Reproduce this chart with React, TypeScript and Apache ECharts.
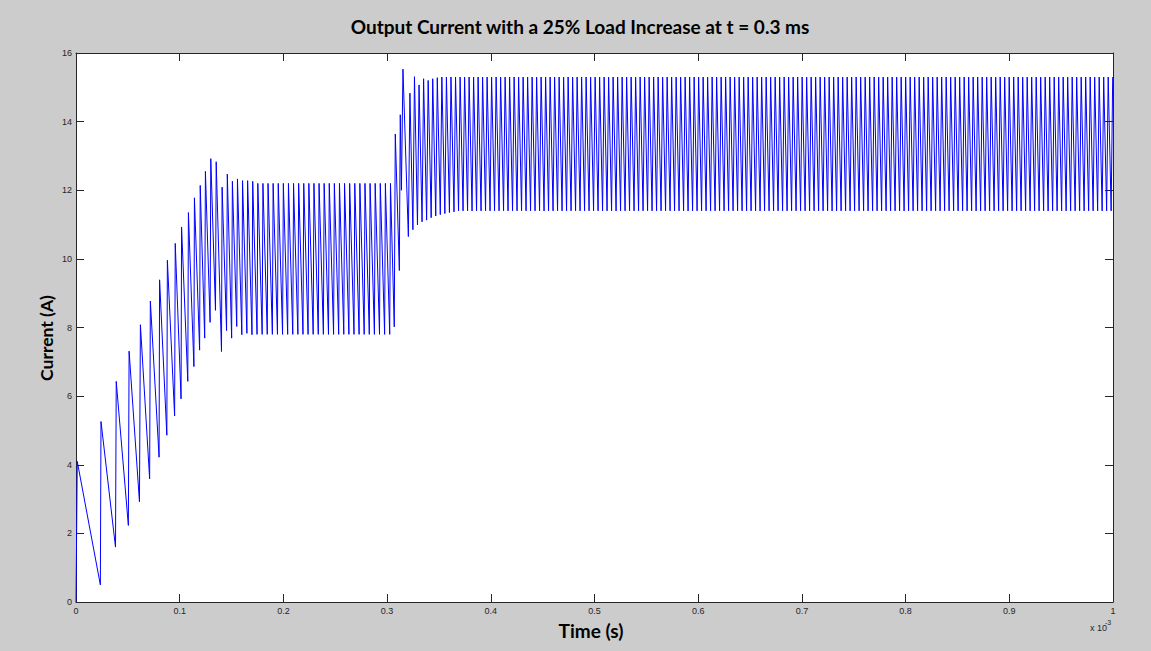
import React, { useEffect, useRef } from "react";
import * as echarts from "echarts";

// ---- Axis ticks (time in units of 1e-3 s) ----
const xTickValues = [0, 0.1, 0.2, 0.3, 0.4, 0.5, 0.6, 0.7, 0.8, 0.9, 1];
const yTickValues = [0, 2, 4, 6, 8, 10, 12, 14, 16];

// ---- Start-up transient: one trough and one peak per switching cycle ----
const startTroughT = [0, 0.0235, 0.0381, 0.0505, 0.0612, 0.071, 0.0801, 0.0876, 0.0951, 0.1013, 0.1078, 0.1137, 0.1192, 0.1241, 0.1293, 0.1345, 0.1403, 0.1452, 0.1501, 0.155, 0.1599, 0.1648, 0.1697];
const startTroughV = [0, 0.5, 1.6, 2.23, 2.92, 3.59, 4.22, 4.86, 5.42, 5.92, 6.43, 6.86, 7.34, 7.69, 8.15, 8.5, 7.3, 7.91, 7.69, 8.03, 7.79, 7.83, 7.79];
const startPeakT = [0.0012, 0.0241, 0.0388, 0.0512, 0.0621, 0.0717, 0.0806, 0.0881, 0.0957, 0.1018, 0.1084, 0.1142, 0.1198, 0.1248, 0.13, 0.1352, 0.1409, 0.1459, 0.1508, 0.1557, 0.1606, 0.1655, 0.1704];
const startPeakV = [4.1, 5.26, 6.43, 7.31, 8.08, 8.77, 9.39, 9.96, 10.45, 10.93, 11.35, 11.78, 12.14, 12.55, 12.92, 12.83, 12.09, 12.47, 12.26, 12.33, 12.28, 12.28, 12.26];

// ---- Steady plateaus (read envelope + switching period) ----
const plateauStart = [0.1746, 0.3689];
const plateauEnd = [0.3035, 1.0];
const plateauLow = [7.8, 11.4];
const plateauHigh = [12.2, 15.3];
const plateauPeriod = [0.00492, 0.00434];
const plateauRise = [0.00074, 0.0015];

// ---- Load step at t = 0.3 ms ----
const stepT = [0.3069, 0.3079, 0.3118, 0.3127, 0.3138, 0.3153];
const stepV = [8.02, 13.64, 9.66, 14.2, 12.0, 15.53];

// ---- Settling after the step ----
const settleTroughT = [0.3205, 0.3249, 0.3293, 0.3337, 0.3381, 0.3425, 0.3469, 0.3513, 0.3557, 0.3601, 0.3645];
const settleTroughV = [10.65, 10.85, 10.99, 11.08, 11.13, 11.2, 11.25, 11.29, 11.32, 11.35, 11.37];
const settlePeakT = [0.322, 0.3264, 0.3308, 0.3352, 0.3396, 0.344, 0.3484, 0.3528, 0.3572, 0.3616, 0.366];
const settlePeakV = [14.83, 15.31, 15.07, 15.25, 15.2, 15.25, 15.28, 15.3, 15.3, 15.3, 15.3];

function buildData(): [number, number][] {
  const pts: [number, number][] = [];
  for (let i = 0; i < startTroughT.length; i++) {
    pts.push([startTroughT[i], startTroughV[i]]);
    pts.push([startPeakT[i], startPeakV[i]]);
  }
  const plateau = (k: number) => {
    for (let t = plateauStart[k]; t + plateauRise[k] <= plateauEnd[k] + 1e-9; t += plateauPeriod[k]) {
      pts.push([t, plateauLow[k]]);
      pts.push([t + plateauRise[k], plateauHigh[k]]);
    }
  };
  plateau(0);
  for (let i = 0; i < stepT.length; i++) pts.push([stepT[i], stepV[i]]);
  for (let i = 0; i < settleTroughT.length; i++) {
    pts.push([settleTroughT[i], settleTroughV[i]]);
    pts.push([settlePeakT[i], settlePeakV[i]]);
  }
  plateau(1);
  return pts;
}

const AXIS_COLOR = "#262626";
const LABEL_FONT = "Liberation Sans";

export default function App() {
  const ref = useRef<HTMLDivElement>(null);
  useEffect(() => {
    if (!ref.current) return;
    const chart = echarts.init(ref.current, null, { renderer: "svg" });
    const axisCommon = {
      type: "value" as const,
      axisLine: { show: true, onZero: false, lineStyle: { color: AXIS_COLOR, width: 1 } },
      axisTick: { show: true, inside: true, length: 8, lineStyle: { color: AXIS_COLOR, width: 1 } },
      splitLine: { show: false },
    };
    const xFmt = (v: number) => {
      const r = Math.round(v * 10) / 10;
      return r === 0 ? "0" : r === 1 ? "1" : r.toFixed(1);
    };
    chart.setOption({
      animation: false,
      backgroundColor: "#cccccc",
      grid: { left: 76, right: 38, top: 53, bottom: 49, show: true, backgroundColor: "#ffffff", borderWidth: 0 },
      xAxis: [
        {
          ...axisCommon,
          position: "bottom",
          min: xTickValues[0],
          max: xTickValues[xTickValues.length - 1],
          interval: 0.1,
          axisLabel: { show: true, fontSize: 9, color: AXIS_COLOR, margin: 4, fontFamily: LABEL_FONT, formatter: xFmt },
        },
        {
          ...axisCommon,
          position: "top",
          min: xTickValues[0],
          max: xTickValues[xTickValues.length - 1],
          interval: 0.1,
          axisLabel: { show: false },
        },
      ],
      yAxis: [
        {
          ...axisCommon,
          position: "left",
          min: yTickValues[0],
          max: yTickValues[yTickValues.length - 1],
          interval: 2,
          axisLabel: { show: true, fontSize: 9, color: AXIS_COLOR, margin: 4, fontFamily: LABEL_FONT },
        },
        {
          ...axisCommon,
          position: "right",
          min: yTickValues[0],
          max: yTickValues[yTickValues.length - 1],
          interval: 2,
          axisLabel: { show: false },
        },
      ],
      series: [
        {
          type: "line",
          xAxisIndex: 0,
          yAxisIndex: 0,
          data: buildData(),
          showSymbol: false,
          symbol: "none",
          lineStyle: { color: "#0000ff", width: 1 },
          clip: true,
        },
      ],
      graphic: [
        {
          type: "text",
          x: 580,
          y: 26,
          style: {
            text: "Output Current with a 25% Load Increase at t = 0.3 ms",
            font: "bold 19px Lato",
            fill: "#000000",
            textAlign: "center",
            textVerticalAlign: "middle",
          },
        },
        {
          type: "text",
          x: 46,
          y: 338,
          rotation: Math.PI / 2,
          style: {
            text: "Current (A)",
            font: "bold 17.5px Lato",
            fill: "#000000",
            textAlign: "center",
            textVerticalAlign: "middle",
          },
        },
        {
          type: "text",
          x: 591,
          y: 630,
          style: {
            text: "Time (s)",
            font: "bold 19px Lato",
            fill: "#000000",
            textAlign: "center",
            textVerticalAlign: "middle",
          },
        },
        {
          type: "text",
          x: 1090,
          y: 628,
          style: { text: "x 10", font: `9px ${LABEL_FONT}`, fill: AXIS_COLOR, textAlign: "left", textVerticalAlign: "middle" },
        },
        {
          type: "text",
          x: 1105,
          y: 622,
          style: { text: "-3", font: `7px ${LABEL_FONT}`, fill: AXIS_COLOR, textAlign: "left", textVerticalAlign: "middle" },
        },
      ],
    });
    return () => chart.dispose();
  }, []);
  return (
    <div
      ref={ref}
      style={{ position: "absolute", left: 0, top: 0, width: 1151, height: 651 }}
    />
  );
}
